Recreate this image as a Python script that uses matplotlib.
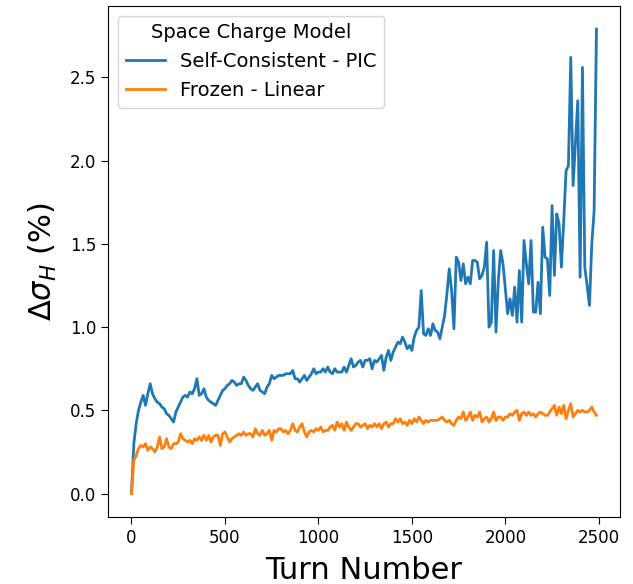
import numpy as np
import matplotlib
matplotlib.use("Agg")
import matplotlib.pyplot as plt

# Turn grid: one sample every 12.5 turns
TURNS = np.arange(200) * 12.5

SELF_CONSISTENT = [
    0.00, 0.30, 0.42, 0.50, 0.55, 0.59, 0.53, 0.60, 0.66, 0.60,
    0.57, 0.55, 0.54, 0.52, 0.51, 0.48, 0.47, 0.45, 0.43, 0.49,
    0.52, 0.55, 0.58, 0.59, 0.58, 0.61, 0.60, 0.63, 0.69, 0.59,
    0.60, 0.63, 0.58, 0.56, 0.55, 0.54, 0.53, 0.56, 0.59, 0.62,
    0.63, 0.65, 0.66, 0.68, 0.67, 0.65, 0.66, 0.66, 0.70, 0.68,
    0.65, 0.63, 0.62, 0.64, 0.66, 0.62, 0.61, 0.60, 0.64, 0.66,
    0.71, 0.69, 0.70, 0.71, 0.71, 0.71, 0.72, 0.72, 0.72, 0.74,
    0.69, 0.69, 0.67, 0.69, 0.71, 0.68, 0.70, 0.72, 0.75, 0.72,
    0.73, 0.73, 0.75, 0.73, 0.76, 0.73, 0.72, 0.75, 0.73, 0.73,
    0.73, 0.76, 0.73, 0.77, 0.81, 0.76, 0.77, 0.79, 0.80, 0.76,
    0.80, 0.80, 0.81, 0.75, 0.80, 0.79, 0.81, 0.83, 0.74, 0.82,
    0.86, 0.80, 0.85, 0.88, 0.91, 0.90, 0.94, 0.91, 0.87, 0.89,
    0.86, 0.94, 0.98, 1.00, 1.22, 0.96, 0.95, 0.99, 0.95, 1.02,
    0.98, 0.97, 0.93, 1.00, 1.07, 1.20, 1.35, 1.22, 0.99, 1.42,
    1.39, 1.28, 1.38, 1.26, 1.30, 1.26, 1.40, 1.40, 1.39, 1.29,
    1.31, 1.36, 1.51, 1.00, 1.03, 1.46, 0.97, 1.28, 1.46, 1.38,
    1.23, 1.08, 1.17, 1.07, 1.24, 1.03, 1.34, 1.03, 1.52, 1.38,
    1.26, 1.52, 1.09, 1.09, 1.27, 1.08, 1.60, 1.42, 1.41, 1.19,
    1.73, 1.31, 1.68, 1.62, 1.36, 1.64, 1.94, 1.97, 2.62, 1.85,
    2.10, 2.36, 1.30, 2.56, 1.36, 1.25, 1.13, 1.50, 1.70, 2.79,
]

FROZEN = [
    0.00, 0.20, 0.23, 0.27, 0.29, 0.28, 0.30, 0.26, 0.28, 0.27,
    0.25, 0.28, 0.34, 0.27, 0.28, 0.33, 0.28, 0.27, 0.30, 0.30,
    0.31, 0.36, 0.33, 0.32, 0.31, 0.32, 0.30, 0.33, 0.32, 0.34,
    0.32, 0.35, 0.32, 0.35, 0.31, 0.34, 0.35, 0.35, 0.29, 0.36,
    0.37, 0.34, 0.31, 0.33, 0.34, 0.35, 0.36, 0.35, 0.37, 0.35,
    0.36, 0.36, 0.34, 0.39, 0.36, 0.35, 0.38, 0.35, 0.36, 0.38,
    0.32, 0.38, 0.37, 0.39, 0.39, 0.37, 0.38, 0.36, 0.38, 0.42,
    0.38, 0.37, 0.40, 0.42, 0.37, 0.34, 0.37, 0.38, 0.37, 0.39,
    0.38, 0.40, 0.37, 0.38, 0.38, 0.40, 0.41, 0.38, 0.43, 0.40,
    0.42, 0.38, 0.43, 0.40, 0.38, 0.40, 0.42, 0.42, 0.40, 0.41,
    0.42, 0.39, 0.41, 0.40, 0.42, 0.40, 0.42, 0.39, 0.42, 0.43,
    0.40, 0.42, 0.42, 0.45, 0.43, 0.45, 0.42, 0.43, 0.41, 0.44,
    0.42, 0.45, 0.43, 0.46, 0.44, 0.42, 0.44, 0.43, 0.44, 0.44,
    0.44, 0.44, 0.45, 0.46, 0.44, 0.43, 0.44, 0.42, 0.41, 0.44,
    0.46, 0.45, 0.49, 0.44, 0.46, 0.49, 0.44, 0.47, 0.46, 0.49,
    0.43, 0.45, 0.46, 0.43, 0.45, 0.49, 0.44, 0.46, 0.46, 0.44,
    0.46, 0.46, 0.48, 0.47, 0.49, 0.50, 0.44, 0.48, 0.49, 0.47,
    0.49, 0.47, 0.48, 0.46, 0.48, 0.49, 0.48, 0.47, 0.47, 0.49,
    0.51, 0.53, 0.47, 0.52, 0.48, 0.53, 0.45, 0.50, 0.54, 0.46,
    0.48, 0.50, 0.49, 0.50, 0.49, 0.49, 0.50, 0.52, 0.49, 0.47,
]

LABELS = ["Self-Consistent - PIC", "Frozen - Linear"]

fig, ax = plt.subplots(figsize=(6.33, 5.84), dpi=100)
fig.subplots_adjust(left=0.171, right=0.979, top=0.990, bottom=0.115)

ax.plot(TURNS, SELF_CONSISTENT, color="#1f77b4", lw=2, label=LABELS[0])
ax.plot(TURNS, FROZEN, color="#ff7f0e", lw=2, label=LABELS[1])

ax.set_xlabel("Turn Number", fontsize=22, labelpad=7)
ax.set_ylabel(r"$\Delta\sigma_H$ (%)", fontsize=22, labelpad=8)
ax.tick_params(labelsize=12, length=5)
ax.set_xticks([0, 500, 1000, 1500, 2000, 2500])

ax.legend(title="Space Charge Model", loc="upper left", fontsize=14,
          title_fontsize=14)

fig.savefig("out.png", dpi=100)
